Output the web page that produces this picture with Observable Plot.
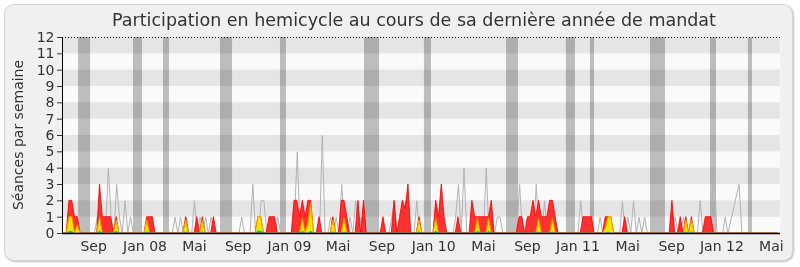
<!DOCTYPE html>
<html>
<head>
<meta charset="utf-8">
<script src="https://cdn.jsdelivr.net/npm/d3@7"></script>
<script src="https://cdn.jsdelivr.net/npm/@observablehq/plot@0.6"></script>
<style>
  html, body { margin: 0; padding: 0; background: #fff; overflow: hidden; }
  body { width: 800px; height: 267px; position: relative; font-family: "DejaVu Sans", Verdana, sans-serif; }
  #panel { position: absolute; left: 4px; top: 4px; width: 787px; height: 255px; background: #f0f0f0;
           border: 1px solid #d4d4d4; border-radius: 10px; box-shadow: 1px 1px 2px rgba(0,0,0,0.25); }
  #title { position: absolute; left: 0; width: 828px; top: 10px; text-align: center; font-size: 17.5px;
           color: #333; white-space: nowrap; line-height: normal; }
  #ylab { position: absolute; left: 18px; top: 135px; transform: translate(-50%, -50%) rotate(-90deg);
          font-size: 14px; color: #333; white-space: nowrap; }
  #chart { position: absolute; left: 0; top: 0; }
</style>
</head>
<body>
<div id="panel"></div>
<div id="title">Participation en hemicycle au cours de sa dernière année de mandat</div>
<div id="ylab">Séances par semaine</div>
<div id="chart"></div>
<script>
// Weekly values, week 0 = mid-June 2007 (rows of 20 weeks)
const presence = [
  0,0,2,2,1,1,0,0,0,0, 0,0,0,3,1,1,1,1,0,1,
  0,0,0,0,0,0,0,0,0,0, 1,1,1,0,0,0,0,0,0,0,
  0,0,0,0,1,0,0,0,1,0, 1,0,0,0,1,0,0,0,0,0,
  0,0,0,0,0,0,0,0,0,0, 1,1,0,0,1,1,1,0,0,0,
  0,0,0,2,2,1,2,1,2,2, 0,0,1,0,0,0,0,1,0,0,
  2,2,1,0,0,0,2,0,2,0, 0,0,0,0,0,1,0,0,0,2,
  0,1,2,1.5,3,0,0,0,1,0, 0,0,0,0,2,1,3,1,0,0,
  0,0,1,0,0,0,0,2,1,1, 1,1,1,1,2,0,0,0,0,0,
  0,0,0,0,1,1,0,1,1,2, 1,2,1,1,1,2,2,1,0,0,
  0,0,0,0,0,0,0,1,1,1, 1,0,0,0,0,1,1,1,0,0,
  0,0,1,0,0,0,0,0,0,0, 0,0,0,0,0,0,0,0,0,2,
  0,0,1,0,1,0,1,0,0,0, 0,1,1,1,0,0,0,0,0,0,
  0,0,0,0,0,0,0,0,0,0, 0,0,0,0,0,0,0,0
];
const interventions = [
  0,0,1,1,0,0.5,0,0,0,0, 0,0,0,1,0,0,0,0,0,0.8,
  0,0,0,0,0,0,0,0,0,0, 0.8,0,0,0,0,0,0,0,0,0,
  0,0,0,0,0.8,0,0,0,0,0, 0.8,0,0,0,0,0,0,0,0,0,
  0,0,0,0,0,0,0,0,0,0, 1,1,0,0,0,0,0,0,0,0,
  0,0,0,0,0,0,0.9,0,0.6,1.8, 0,0,0,0,0,0,0,0.8,0,0,
  0,0.9,0,0,0,0,0,0,0,0, 0,0,0,0,0,0,0,0,0,0,
  0,0,0,0,0,0,0,0,0.8,0, 0,0,0,0,0.9,0,0,0,0,0,
  0,0,0,0,0,0,0,0,0,0.9, 0,0,0,0.9,0,0,0,0,0,0,
  0,0,0,0,0,0,0,0,0,0, 0,0.9,0,0,0,0,0.9,0,0,0,
  0,0,0,0,0,0,0,0,0,0, 0,0,0,0,0,0.3,1,1,0,0,
  0,0,0,0,0,0,0,0,0,0, 0,0,0,0,0,0,0,0,0,0,
  0,0,0,0,0.8,0,0.8,0,0,0, 0,0,0,0,0,0,0,0,0,0,
  0,0,0,0,0,0,0,0,0,0, 0,0,0,0,0,0,0,0
];
const questions = [
  0,0,0.12,0.12,0,0,0,0,0,0, 0,0,0,0.15,0,0,0,0,0,0.15,
  0,0,0,0,0,0,0,0,0,0, 0.1,0,0,0,0,0,0,0,0,0,
  0,0,0,0,0.1,0,0,0,0,0, 0.1,0,0,0,0,0,0,0,0,0,
  0,0,0,0,0,0,0,0,0,0, 0.15,0.15,0,0,0,0,0,0,0,0,
  0,0,0,0,0,0,0.15,0,0,0.15, 0,0,0,0,0,0,0,0.1,0,0,
  0,0.1,0,0,0,0,0,0,0,0, 0,0,0,0,0,0,0,0,0,0,
  0,0,0,0,0,0,0,0,0.1,0, 0,0,0,0,0.15,0,0,0,0,0,
  0,0,0,0,0,0,0,0,0,0.15, 0,0,0,0.15,0,0,0,0,0,0,
  0,0,0,0,0,0,0,0,0,0, 0,0.1,0,0,0,0,0.1,0,0,0,
  0,0,0,0,0,0,0,0,0,0, 0,0,0,0,0,0,0.1,0,0,0,
  0,0,0,0,0,0,0,0,0,0, 0,0,0,0,0,0,0,0,0,0,
  0,0,0,0,0.1,0,0.1,0,0,0, 0,0,0,0,0,0,0,0,0,0,
  0,0,0,0,0,0,0,0,0,0, 0,0,0,0,0,0,0,0
];
const mediane = [
  0,0,0,0,0,0,0,0,0,0, 0,0,1,0,0,0,4,1,0,3,
  1,0,2,0,1,0,0,0,0,0, 0,0,0,0,0,0,0,0,0,0,
  1,0,1,0,1,0,0,2,0,1, 0,1,0,1,0,0,0,0,0,0,
  0,0,0,0,1,0,0,0,3,0, 0,2,2,0,0,0,0,1,0,0,
  0,0,0,1,5,0,0,0,0,0, 0,0,0,6,0,0,1,0,1,0,
  3,0,0,1,0,2,0,1,0,0, 0,0,0,0,0,0,0,0,1,2,
  0,1,0,2,0,0,0,2,0,0, 0,0,0,0,0,0,0,0,0,0,
  0,1,3,0,4,0,0,0,0,0, 0,0,4,0,0,0,1,1,0,0,
  0,0,0,0,3,0,0,0,0,0, 3,0,0,2,0,0,0,0,0,0,
  0,0,0,0,0,0,2,0,0,0, 0,0,0,1,0,0,0,0,0,0,
  0,2,0,1,0,2,0,1,0,1, 0,0,0,0,0,0,0,0,0,0,
  1,0,0,1,0,0,0,0,0,2, 0,0,0,1,4,0,0,0,1,0,
  0.8,1.5,2.3,3,0,0,0,0,0,0, 0,0,0,0,0,0,0,0
];
// Parliamentary holidays (start / end, in weeks)
const vacStart = [5.3, 25.05, 35.85, 56.35, 77.95, 108.2, 129.75, 159.3, 180.85, 189.5, 211.1, 232.7, 246.35];
const vacEnd   = [9.6, 28.3, 38.0, 60.7, 80.1, 113.6, 132.3, 163.6, 184.1, 190.95, 216.5, 234.85, 247.8];
// Month tick labels (position in weeks)
const tickWeeks  = [10.7, 29.2, 47.0, 62.7, 81.2, 98.7, 114.5, 133.1, 151.0, 166.8, 185.0, 202.9, 218.7, 236.8, 254.6];
const tickLabels = ["Sep","Jan 08","Mai","Sep","Jan 09","Mai","Sep","Jan 10","Mai","Sep","Jan 11","Mai","Sep","Jan 12","Mai"];
const yTicks = [0,1,2,3,4,5,6,7,8,9,10,11,12];
const darkRows = [1,3,5,7,9,11];
const xDomain = [-0.5, 257.9];

const weeks = presence.map((v, i) => ({w: i, presence: v, interventions: interventions[i], questions: questions[i], mediane: mediane[i]}));
const vac = vacStart.map((s, i) => ({s, e: vacEnd[i]}));
const labelOf = new Map(tickWeeks.map((t, i) => [t, tickLabels[i]]));

const svg = Plot.plot({
  width: 800, height: 267,
  marginLeft: 62, marginRight: 20, marginTop: 37, marginBottom: 34,
  style: {background: "transparent", fontFamily: "DejaVu Sans, Verdana, sans-serif", fontSize: "14px", color: "#333", overflow: "visible"},
  x: {domain: xDomain, ticks: tickWeeks, tickFormat: d => labelOf.get(d), tickSize: 0, tickPadding: 8, label: null},
  y: {domain: [0, 12], ticks: yTicks, tickSize: 5, tickPadding: 3, label: null},
  marks: [
    Plot.frame({fill: "#fafafa", stroke: null}),
    Plot.rect(darkRows, {x1: xDomain[0], x2: xDomain[1], y1: d => d, y2: d => d + 1, fill: "#e5e5e5"}),
    Plot.rect(vac, {x1: "s", x2: "e", y1: 0, y2: 12, fill: "#c1c1c1", mixBlendMode: "multiply", ariaLabel: "vacances"}),
    Plot.line(weeks, {x: "w", y: "mediane", stroke: "#b3b3b3", strokeWidth: 1}),
    Plot.areaY(weeks, {x: "w", y: "presence", fill: "#ff3030", stroke: "#e80000", strokeWidth: 0.8}),
    Plot.areaY(weeks, {x: "w", y: "interventions", fill: "#ffe600", stroke: "#ff9a00", strokeWidth: 1}),
    Plot.areaY(weeks, {x: "w", y: "questions", fill: "#22cc00"}),
    Plot.ruleY([12], {stroke: "#000", strokeDasharray: "1,2", strokeWidth: 1}),
    Plot.ruleY([0], {stroke: "#000", strokeWidth: 1.5}),
    Plot.ruleX([xDomain[0]], {stroke: "#000", strokeWidth: 1})
  ]
});
d3.select(svg).selectAll('g[aria-label="vacances"] rect').style("mix-blend-mode", "multiply");
d3.select(svg).selectAll('g[aria-label="x-axis"] text, g[aria-label="y-axis"] text').attr("fill", "#333");
document.getElementById("chart").appendChild(svg);
</script>
</body>
</html>
